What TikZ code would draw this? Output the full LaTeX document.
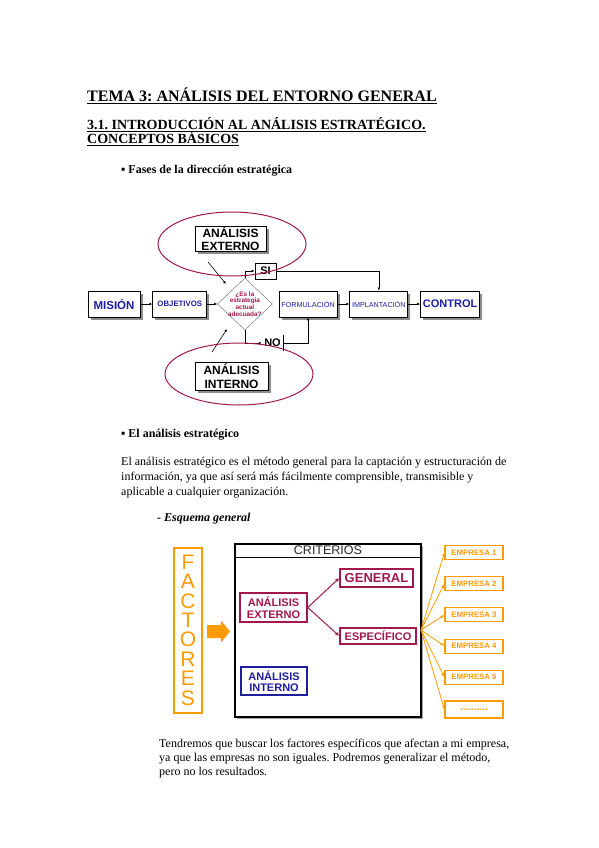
\documentclass[tikz,border=0pt]{standalone}
\usepackage{fontspec}
\setmainfont{Liberation Serif}
\newfontfamily\arialfont{Liberation Sans}
\usetikzlibrary{shapes,positioning,fit,calc,shadows,arrows.meta}
\frenchspacing

\definecolor{azulfase}{HTML}{1E1E9E}
\definecolor{granate}{HTML}{A2184B}
\definecolor{naranja}{HTML}{FF9A00}

\newcommand{\tam}[2]{\fontsize{#1}{#2}\selectfont}

\begin{document}
\begin{tikzpicture}[x=1pt,y=-1pt]

        \def\d{12pt}

        \useasboundingbox (0,0) rectangle (599,848);

        % Boxes, arrows and text lines
        \tikzset{
          caja/.style={draw, fill=white, inner sep=0pt, align=center,
            line width=0.8pt,
            drop shadow={shadow xshift=2.5pt, shadow yshift=-2.5pt,
              fill=black!45, opacity=1}},
          fase/.style={caja, minimum height=26pt},
          flechita/.style={-{Latex[length=3pt,width=2.6pt]}, line width=0.6pt},
          ovalo/.style={draw=granate, line width=1pt, ellipse, inner sep=0pt},
          marco/.style={draw, fill=white, inner sep=0pt, align=center,
            line width=1.5pt},
          empresa/.style={draw=naranja, line width=1.1pt, fill=white,
            inner sep=0pt, minimum width=58pt, minimum height=14pt,
            text=naranja, font=\arialfont\bfseries\tam{7.8}{8}},
          texto/.style={anchor=base west, inner sep=0pt},
        }

        % Headings and text of the page
        \node[texto, font=\bfseries\tam{16}{18}] (tema) at (87,102)
        {\underline{TEMA 3: ANÁLISIS DEL ENTORNO GENERAL}};
        \node[texto, font=\bfseries\tam{14}{16}] (sec1) at (87,129.5)
        {\underline{3.1. INTRODUCCIÓN AL ANÁLISIS ESTRATÉGICO.}};
        \node[texto, font=\bfseries\tam{14}{16}] (sec2) at (87,143.5)
        {\underline{CONCEPTOS BÁSICOS}};
        \node[texto, font=\bfseries\tam{12}{14}] (fases) at (121,173)
        {▪ Fases de la dirección estratégica};

        \node[texto, font=\bfseries\tam{12}{14}] (analisis) at (121,437)
        {▪ El análisis estratégico};
        \node[texto, font=\tam{12}{14}] (p1) at (121,465)
        {El análisis estratégico es el método general para la captación y estructuración de};
        \node[texto, font=\tam{12}{14}] (p2) at (121,480)
        {información, ya que así será más fácilmente comprensible, transmisible y};
        \node[texto, font=\tam{12}{14}] (p3) at (121,495)
        {aplicable a cualquier organización.};
        \node[texto, font=\bfseries\itshape\tam{12}{14}] (esquema) at (157,521)
        {- Esquema general};

        \node[texto, font=\tam{12}{14}] (q1) at (159,747)
        {Tendremos que buscar los factores específicos que afectan a mi empresa,};
        \node[texto, font=\tam{12}{14}] (q2) at (159,761)
        {ya que las empresas no son iguales. Podremos generalizar el método,};
        \node[texto, font=\tam{12}{14}] (q3) at (159,775)
        {pero no los resultados.};

        % Phases of the strategic direction
        \begin{scope}
            \node[fase, minimum width=52pt, text=azulfase,
              font=\arialfont\bfseries\tam{11.5}{12}] (mision) at (114,304) {MISIÓN};
            \node[fase, minimum width=54pt, text=azulfase,
              font=\arialfont\bfseries\tam{7.8}{8}] (objetivos)
              [right=\d of mision] {OBJETIVOS};
            \node[draw=black!60, fill=white, diamond, inner sep=0pt,
              minimum width=55pt, minimum height=52pt] (decision)
              [right=10pt of objetivos] {};
            \node[text=granate, align=center, inner sep=0pt,
              font=\arialfont\bfseries\tam{6.4}{6.6}] (pregunta)
              at (decision) {¿Es la\\estrategia\\actual\\adecuada?};
            \node[fase, minimum width=58pt, text=azulfase,
              font=\arialfont\tam{7.2}{8}] (formulacion)
              [right=6pt of decision] {FORMULACIÓN};
            \node[fase, minimum width=58pt, text=azulfase,
              font=\arialfont\tam{7.2}{8}] (implantacion)
              [right=\d of formulacion] {IMPLANTACIÓN};
            \node[fase, minimum width=59pt, text=azulfase,
              font=\arialfont\bfseries\tam{11}{12}] (control)
              [right=\d of implantacion] {CONTROL};

            \node[caja, minimum width=71pt, minimum height=25pt,
              font=\arialfont\bfseries\tam{12}{12.5}] (externo) at (230.5,238.5)
              {ANÁLISIS\\EXTERNO};
            \node[caja, minimum width=73pt, minimum height=28pt,
              font=\arialfont\bfseries\tam{12}{14}] (interno) at (231.5,376)
              {ANÁLISIS\\INTERNO};

            \node[draw, fill=white, inner sep=0pt, line width=0.8pt,
              minimum width=21pt, minimum height=16pt,
              font=\arialfont\bfseries\tam{11}{12}] (si) at (265.5,271) {SI};
            \node[inner sep=0pt, minimum width=21pt, minimum height=15pt,
              font=\arialfont\bfseries\tam{11}{12}] (no) at (272.5,343) {NO};

            \coordinate (e1) at (208,262);
            \coordinate (e2) at (226,284);
            \coordinate (i1) at (212,352);
            \coordinate (i2) at (227,329);
        \end{scope}

        \begin{scope}[line width=0.8pt]
            \draw[flechita] (mision) -- (objetivos);
            \draw[flechita] (objetivos) -- (decision);
            \draw[flechita] (formulacion) -- (implantacion);
            \draw[flechita] (implantacion) -- (control);
            \draw[flechita] (decision.north) |- (si.west);
            \draw[flechita] (si.east) -| (implantacion.north);
            \draw[flechita] (decision.south) |- (no.west);
            \draw (no.north east) -- (no.south east);
            \draw[flechita] (no.east) -| (formulacion.south);
            \draw[flechita] (e1) -- (e2);
            \draw[flechita] (i1) -- (i2);
        \end{scope}

        \node[ovalo, minimum width=148pt, minimum height=64pt] (elipseext)
        at (232,244) {};
        \node[ovalo, minimum width=148pt, minimum height=62pt] (elipseint)
        at (239,374) {};

        % General scheme
        \begin{scope}
            \node[draw=naranja, line width=1.3pt, minimum width=28pt,
              minimum height=165pt, inner sep=0pt] (factores) at (188,630.5) {};
            \foreach \l [count=\i] in {F,A,C,T,O,R,E,S}
                \node[text=naranja, font=\arialfont\tam{21}{22}, inner sep=0pt]
                (f\i) at (188,562+19.4*\i-19.4) {\l};
            \fill[naranja] (207,625) -- (221,625) -- (221,620.5) -- (230,631.5)
                -- (221,642.5) -- (221,638) -- (207,638) -- cycle;

            \node[draw, line width=1.3pt, minimum width=186pt,
              minimum height=173pt, inner sep=0pt,
              drop shadow={shadow xshift=1.5pt, shadow yshift=-1.5pt,
                fill=black!35, opacity=1}, fill=white] (criterios) at (328,630.5) {};
            \node[draw, line width=1pt, minimum width=186pt, minimum height=13pt,
              inner sep=0pt, text=black!85,
              font=\arialfont\tam{12.5}{12}] (titulo) at (328,550.5) {CRITERIOS};

            \node[marco, draw=granate, text=granate, minimum width=67pt,
              minimum height=29pt, font=\arialfont\bfseries\tam{11}{11.5}]
              (externo2) at (273.5,607.5) {ANÁLISIS\\EXTERNO};
            \node[marco, draw=azulfase, text=azulfase, minimum width=66pt,
              minimum height=28pt, font=\arialfont\bfseries\tam{11}{11.5}]
              (interno2) at (274,681) {ANÁLISIS\\INTERNO};
            \node[marco, draw=granate, text=granate, minimum width=73pt,
              minimum height=18pt, font=\arialfont\bfseries\tam{13}{13}]
              (general) at (376.5,578) {GENERAL};
            \node[marco, draw=granate, text=granate, minimum width=76pt,
              minimum height=16pt, font=\arialfont\bfseries\tam{11}{11}]
              (especifico) at (378,636) {ESPECÍFICO};

            \foreach \i in {1,...,5}
                \node[empresa] (emp\i) at (474,552.5+31.2*\i-31.2) {EMPRESA \i};
            \node[empresa, minimum height=17pt, font=\arialfont\bfseries\tam{10}{10}]
              (emp6) at (474,709.5) {..........};

            \coordinate (abanico) at (421,630);
        \end{scope}

        \begin{scope}[granate, line width=1pt]
            \draw[-{Latex[length=4pt,width=3.5pt]}] (externo2.east) -- (general.west);
            \draw[-{Latex[length=4pt,width=3.5pt]}] (externo2.east) -- (especifico.west);
        \end{scope}

        \begin{scope}[naranja, line width=0.8pt]
            \foreach \i in {1,...,6}
                \draw[-{Latex[length=4pt,width=3pt]}] (abanico) -- (emp\i.west);
        \end{scope}

\end{tikzpicture}
\end{document}
